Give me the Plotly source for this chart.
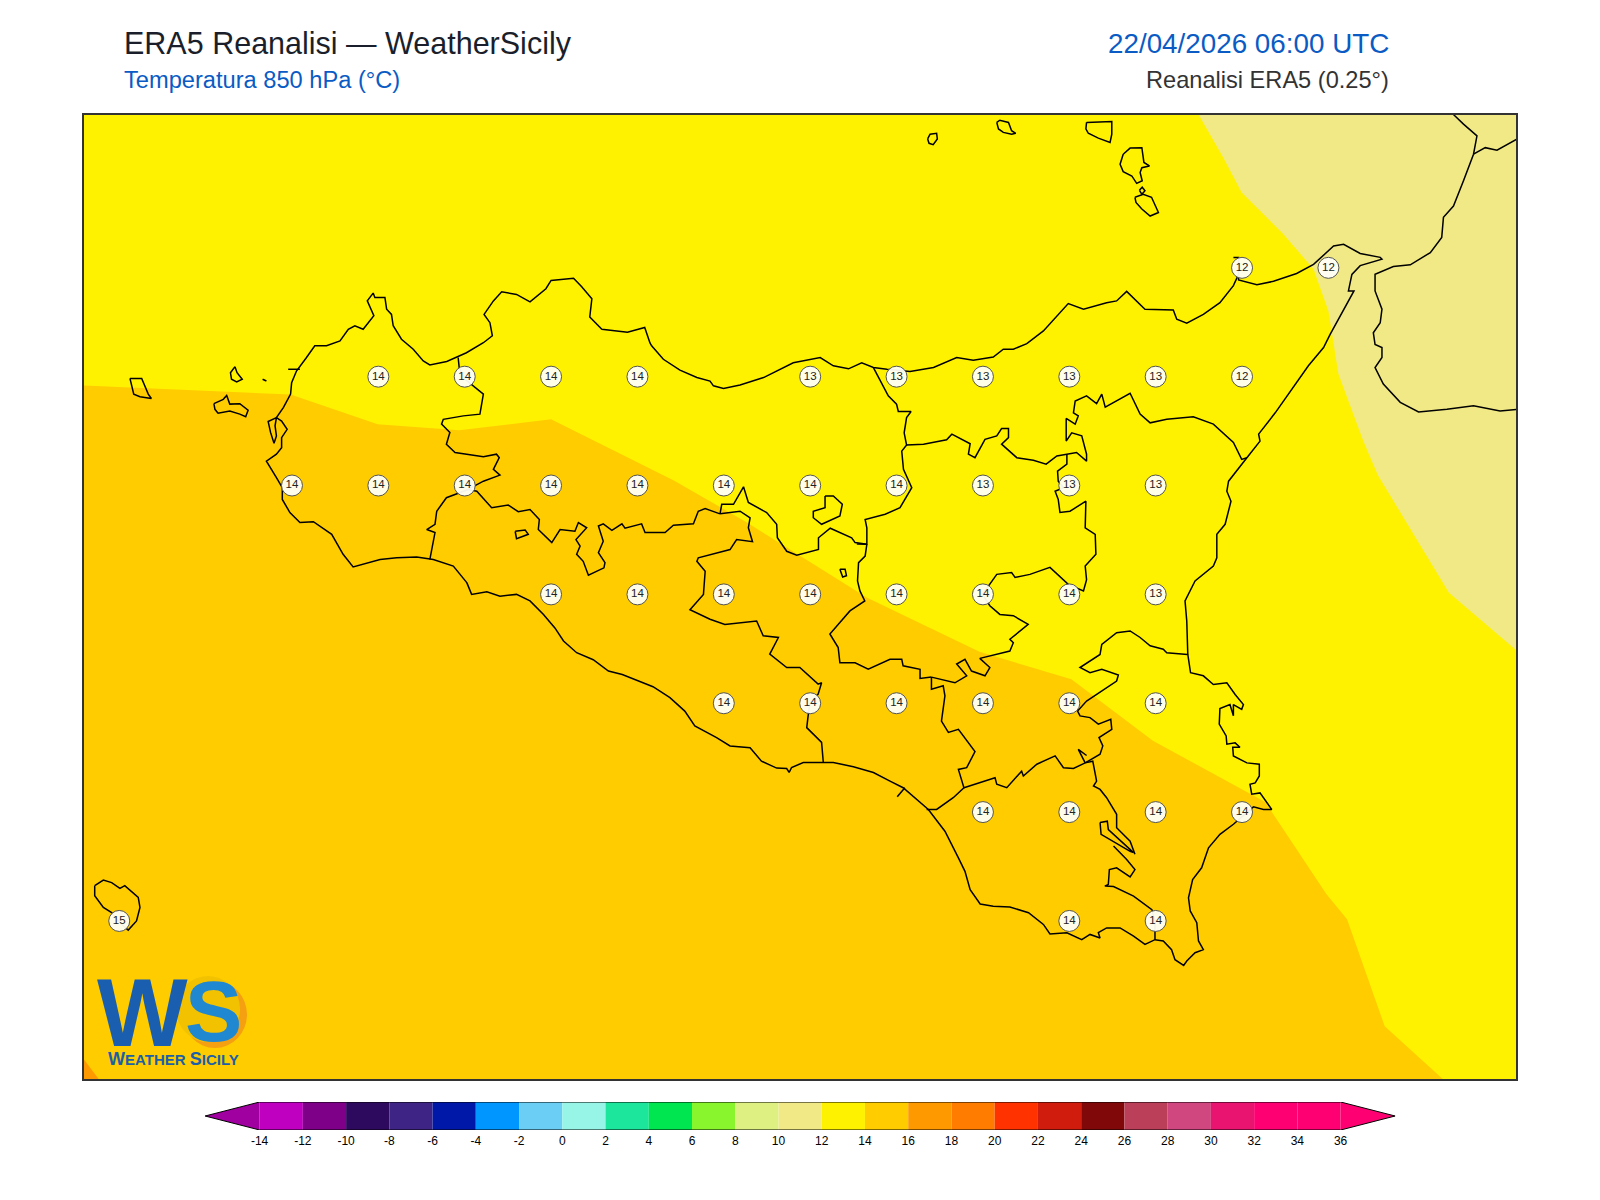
import plotly.graph_objects as go

# map window, degrees
lon_range = [11.898, 16.043]
lat_range = [36.387, 38.601]

# grid point labels, one row per latitude
row_lats = [38.25, 38.0, 37.75, 37.5, 37.25, 37.0, 36.75]
row_lons = [
    [15.25, 15.5],
    [12.75, 13.0, 13.25, 13.5, 14.0, 14.25, 14.5, 14.75, 15.0, 15.25],
    [12.5, 12.75, 13.0, 13.25, 13.5, 13.75, 14.0, 14.25, 14.5, 14.75, 15.0],
    [13.25, 13.5, 13.75, 14.0, 14.25, 14.5, 14.75, 15.0],
    [13.75, 14.0, 14.25, 14.5, 14.75, 15.0],
    [14.5, 14.75, 15.0, 15.25],
    [12.0, 14.75, 15.0],
]
row_vals = [
    [12, 12],
    [14, 14, 14, 14, 13, 13, 13, 13, 13, 12],
    [14, 14, 14, 14, 14, 14, 14, 14, 13, 13, 13],
    [14, 14, 14, 14, 14, 14, 14, 13],
    [14, 14, 14, 14, 14, 14],
    [14, 14, 14, 14],
    [15, 14, 14],
]

# colour scale
levels = list(range(-14, 36, 2))
level_colors = ["#C000C0", "#7F0088", "#2E0A5E", "#3E2485", "#0018A8", "#0096FF", "#6BCFF5", "#96F5E6",
                "#1CE69B", "#00E650", "#88F52D", "#DFF082", "#F0E986", "#FFF200", "#FFCC00", "#FF9900",
                "#FF7C00", "#FF3200", "#CF1C0C", "#800808", "#BC3F5A", "#D04780", "#E8146F", "#FF0072", "#FF0072"]
tick_vals = list(range(-14, 38, 2))
tick_text = [str(v) for v in tick_vals]

# filled temperature bands
band_12_14 = [(11.895, 36.382), (16.046, 36.382), (16.046, 38.605), (11.895, 38.605)]
band_10_12 = [(15.122, 38.605), (15.196, 38.503), (15.249, 38.423), (15.370, 38.327), (15.457, 38.247),
              (15.500, 38.151), (15.529, 38.006), (15.601, 37.852), (15.643, 37.774), (15.849, 37.504),
              (16.046, 37.370), (16.046, 38.605)]
band_14_16 = [(11.895, 37.980), (12.245, 37.968), (12.496, 37.959), (12.748, 37.891), (12.984, 37.877),
              (13.250, 37.902), (13.604, 37.762), (13.811, 37.668), (14.165, 37.492), (14.490, 37.368),
              (14.756, 37.305), (14.992, 37.164), (15.317, 37.023), (15.494, 36.812), (15.554, 36.754),
              (15.663, 36.508), (15.838, 36.382), (11.895, 36.382)]
band_16_18 = [(11.895, 36.435), (11.945, 36.382), (11.895, 36.382)]

# coast of Sicily
sicily = [(13.006, 37.527), (12.967, 37.565), (12.909, 37.580), (12.861, 37.586), (12.803, 37.584), (12.755, 37.580),
          (12.677, 37.563), (12.648, 37.592), (12.615, 37.638), (12.586, 37.653), (12.562, 37.667), (12.523, 37.665),
          (12.494, 37.688), (12.472, 37.718), (12.472, 37.745), (12.455, 37.768), (12.436, 37.795), (12.426, 37.806),
          (12.455, 37.822), (12.470, 37.837), (12.470, 37.860), (12.486, 37.879), (12.470, 37.898), (12.455, 37.906),
          (12.475, 37.929), (12.496, 37.960), (12.499, 37.986), (12.513, 38.013), (12.542, 38.044), (12.566, 38.071),
          (12.600, 38.071), (12.639, 38.082), (12.663, 38.109), (12.682, 38.117), (12.706, 38.109), (12.737, 38.140),
          (12.718, 38.174), (12.735, 38.192), (12.740, 38.182), (12.769, 38.182), (12.774, 38.155), (12.788, 38.143),
          (12.793, 38.117), (12.817, 38.086), (12.851, 38.063), (12.880, 38.036), (12.899, 38.027), (12.948, 38.035),
          (13.005, 38.055), (13.054, 38.078), (13.080, 38.094), (13.073, 38.124), (13.056, 38.143), (13.083, 38.174),
          (13.107, 38.195), (13.150, 38.189), (13.189, 38.172), (13.235, 38.202), (13.250, 38.221), (13.315, 38.226),
          (13.338, 38.207), (13.368, 38.179), (13.362, 38.137), (13.397, 38.109), (13.471, 38.102), (13.521, 38.113),
          (13.536, 38.078), (13.541, 38.071), (13.575, 38.040), (13.623, 38.015), (13.672, 37.998), (13.710, 37.990),
          (13.720, 37.979), (13.749, 37.973), (13.797, 37.981), (13.865, 37.998), (13.951, 38.032), (14.029, 38.044),
          (14.067, 38.025), (14.111, 38.018), (14.149, 38.032), (14.183, 38.021), (14.222, 38.017), (14.289, 38.012),
          (14.357, 38.021), (14.424, 38.044), (14.472, 38.038), (14.530, 38.045), (14.559, 38.063), (14.588, 38.063),
          (14.627, 38.076), (14.675, 38.105), (14.747, 38.168), (14.791, 38.155), (14.858, 38.170), (14.887, 38.174),
          (14.916, 38.196), (14.969, 38.155), (15.051, 38.153), (15.061, 38.132), (15.090, 38.123), (15.138, 38.143),
          (15.186, 38.170), (15.225, 38.209), (15.240, 38.235), (15.240, 38.274), (15.225, 38.274), (15.240, 38.274),
          (15.240, 38.222), (15.293, 38.211), (15.341, 38.219), (15.408, 38.237), (15.457, 38.258), (15.515, 38.300),
          (15.544, 38.304), (15.592, 38.283), (15.650, 38.274), (15.655, 38.270), (15.592, 38.255), (15.568, 38.235),
          (15.558, 38.197), (15.574, 38.197), (15.505, 38.097), (15.486, 38.067), (15.442, 38.025), (15.346, 37.917),
          (15.298, 37.868), (15.302, 37.852), (15.264, 37.814), (15.211, 37.760), (15.206, 37.737), (15.218, 37.714),
          (15.201, 37.661), (15.177, 37.638), (15.177, 37.584), (15.167, 37.565), (15.114, 37.531), (15.095, 37.500),
          (15.085, 37.485), (15.090, 37.439), (15.093, 37.362), (15.101, 37.320), (15.138, 37.313), (15.167, 37.293),
          (15.206, 37.297), (15.230, 37.270), (15.254, 37.247), (15.249, 37.236), (15.225, 37.247), (15.225, 37.221),
          (15.215, 37.247), (15.186, 37.238), (15.184, 37.202), (15.204, 37.175), (15.206, 37.156), (15.230, 37.159),
          (15.244, 37.149), (15.223, 37.149), (15.225, 37.129), (15.264, 37.113), (15.300, 37.110), (15.300, 37.083),
          (15.288, 37.067), (15.273, 37.064), (15.278, 37.041), (15.302, 37.044), (15.336, 37.006), (15.312, 37.006),
          (15.283, 37.012), (15.225, 36.972), (15.186, 36.949), (15.153, 36.918), (15.133, 36.872), (15.107, 36.845),
          (15.095, 36.803), (15.100, 36.773), (15.119, 36.746), (15.124, 36.704), (15.138, 36.684), (15.114, 36.677),
          (15.090, 36.658), (15.081, 36.648), (15.056, 36.661), (15.046, 36.684), (15.022, 36.704), (14.998, 36.707),
          (14.969, 36.696), (14.936, 36.715), (14.897, 36.734), (14.858, 36.734), (14.834, 36.723), (14.839, 36.711),
          (14.810, 36.719), (14.786, 36.707), (14.743, 36.723), (14.694, 36.720), (14.675, 36.742), (14.632, 36.769),
          (14.578, 36.782), (14.530, 36.784), (14.492, 36.789), (14.463, 36.822), (14.448, 36.864), (14.429, 36.895),
          (14.390, 36.956), (14.342, 37.006), (14.269, 37.056), (14.231, 37.071), (14.183, 37.091), (14.125, 37.104),
          (14.067, 37.114), (14.038, 37.114), (13.980, 37.114), (13.946, 37.102), (13.939, 37.091), (13.932, 37.100),
          (13.903, 37.101), (13.859, 37.117), (13.826, 37.148), (13.768, 37.152), (13.729, 37.171), (13.666, 37.198),
          (13.637, 37.232), (13.594, 37.263), (13.545, 37.288), (13.456, 37.316), (13.416, 37.324), (13.372, 37.350),
          (13.324, 37.366), (13.286, 37.393), (13.261, 37.423), (13.228, 37.454), (13.189, 37.485), (13.150, 37.500),
          (13.102, 37.496), (13.064, 37.506), (13.020, 37.500), (13.006, 37.527)]

stagnone = [(12.455, 37.906), (12.431, 37.897), (12.438, 37.872), (12.448, 37.847), (12.455, 37.864), (12.451, 37.887), (12.455, 37.906)]
trapani_cape = [(12.489, 38.017), (12.523, 38.017)]

# islands
marettimo = [(12.031, 37.996), (12.065, 37.996), (12.084, 37.960), (12.093, 37.950), (12.060, 37.954), (12.042, 37.960), (12.031, 37.996)]
levanzo = [(12.335, 38.023), (12.341, 38.009), (12.356, 37.994), (12.340, 37.988), (12.325, 37.994), (12.322, 38.009), (12.335, 38.023)]
favignana = [(12.274, 37.938), (12.301, 37.948), (12.311, 37.957), (12.320, 37.937), (12.349, 37.938), (12.373, 37.923), (12.366, 37.908),
             (12.349, 37.914), (12.320, 37.921), (12.286, 37.916), (12.277, 37.925), (12.274, 37.938)]
formica = [(12.415, 37.994), (12.426, 37.990)]
filicudi = [(14.340, 38.546), (14.347, 38.557), (14.366, 38.559), (14.368, 38.546), (14.356, 38.533), (14.344, 38.536), (14.340, 38.546)]
alicudi = [(14.540, 38.584), (14.549, 38.589), (14.574, 38.584), (14.583, 38.565), (14.595, 38.559), (14.583, 38.557), (14.559, 38.561), (14.545, 38.569), (14.540, 38.584)]
salina = [(14.800, 38.584), (14.873, 38.586), (14.873, 38.557), (14.868, 38.538), (14.834, 38.548), (14.805, 38.559), (14.798, 38.569), (14.800, 38.584)]
lipari = [(14.906, 38.511), (14.926, 38.525), (14.960, 38.526), (14.966, 38.492), (14.982, 38.484), (14.960, 38.480), (14.955, 38.469),
          (14.961, 38.450), (14.945, 38.444), (14.931, 38.461), (14.906, 38.471), (14.897, 38.488), (14.906, 38.511)]
vulcano = [(14.940, 38.412), (14.964, 38.419), (14.988, 38.412), (15.008, 38.377), (14.984, 38.369), (14.960, 38.385), (14.943, 38.400), (14.940, 38.412)]
vulcanello = [(14.953, 38.428), (14.961, 38.435), (14.969, 38.427), (14.960, 38.419), (14.953, 38.428)]
pantelleria = [(11.929, 36.831), (11.954, 36.844), (11.978, 36.838), (12.002, 36.825), (12.016, 36.831), (12.055, 36.804), (12.060, 36.781),
               (12.050, 36.750), (12.026, 36.729), (12.002, 36.746), (11.978, 36.769), (11.954, 36.781), (11.929, 36.808), (11.929, 36.831)]

# Calabria
calabria = [(15.862, 38.602), (15.891, 38.580), (15.930, 38.553), (15.920, 38.511), (15.891, 38.450), (15.862, 38.392), (15.833, 38.366),
            (15.828, 38.320), (15.795, 38.285), (15.737, 38.257), (15.688, 38.253), (15.635, 38.235), (15.635, 38.197), (15.655, 38.155),
            (15.650, 38.124), (15.630, 38.101), (15.635, 38.074), (15.655, 38.067), (15.655, 38.044), (15.635, 38.021), (15.659, 37.983),
            (15.708, 37.941), (15.761, 37.919), (15.843, 37.925), (15.920, 37.933), (15.997, 37.921), (16.047, 37.925)]
calabria_border = [(15.920, 38.511), (15.954, 38.526), (15.988, 38.520), (16.021, 38.534), (16.047, 38.546)]

# province borders
tp_pa = [(12.981, 38.044), (12.984, 38.021), (13.001, 37.994), (13.030, 37.975), (13.054, 37.960), (13.044, 37.914), (12.996, 37.910),
         (12.938, 37.902), (12.933, 37.891), (12.957, 37.872), (12.947, 37.845), (12.972, 37.826), (13.054, 37.816), (13.092, 37.822),
         (13.100, 37.814), (13.083, 37.787), (13.102, 37.774), (13.054, 37.760), (13.010, 37.741)]
tp_ag = [(13.010, 37.741), (12.947, 37.722), (12.919, 37.691), (12.914, 37.661), (12.890, 37.649), (12.914, 37.642), (12.899, 37.580)]
pa_ag = [(13.010, 37.741), (13.035, 37.737), (13.078, 37.699), (13.126, 37.705), (13.155, 37.690), (13.189, 37.695), (13.216, 37.672),
         (13.213, 37.649), (13.252, 37.619), (13.276, 37.649), (13.319, 37.645), (13.329, 37.665), (13.353, 37.653), (13.322, 37.626),
         (13.334, 37.611), (13.324, 37.592), (13.343, 37.576), (13.358, 37.544), (13.403, 37.561), (13.406, 37.573), (13.387, 37.596),
         (13.401, 37.622), (13.387, 37.657), (13.401, 37.662), (13.426, 37.647), (13.455, 37.662), (13.464, 37.652), (13.512, 37.662),
         (13.522, 37.642), (13.580, 37.642), (13.604, 37.659), (13.662, 37.662), (13.676, 37.691), (13.696, 37.697), (13.739, 37.685)]
ag_cl = [(13.739, 37.685), (13.797, 37.691), (13.826, 37.676), (13.821, 37.653), (13.833, 37.621), (13.787, 37.626), (13.768, 37.603),
         (13.676, 37.584), (13.672, 37.576), (13.696, 37.553), (13.691, 37.500), (13.652, 37.465), (13.710, 37.443), (13.753, 37.431),
         (13.845, 37.439), (13.864, 37.405), (13.908, 37.401), (13.883, 37.363), (13.932, 37.332), (13.970, 37.332), (14.023, 37.294),
         (14.033, 37.297), (14.023, 37.271), (13.999, 37.249), (13.994, 37.221), (13.990, 37.194), (14.033, 37.160), (14.038, 37.114)]
pa_cl = [(13.739, 37.685), (13.744, 37.707), (13.778, 37.707), (13.807, 37.747), (13.821, 37.711), (13.874, 37.688), (13.903, 37.661),
         (13.905, 37.630), (13.932, 37.599), (13.961, 37.590), (14.024, 37.603), (14.024, 37.630), (14.058, 37.652), (14.120, 37.630),
         (14.130, 37.619), (14.164, 37.615)]
pa_me = [(14.135, 37.616), (14.164, 37.615), (14.164, 37.653), (14.159, 37.672), (14.217, 37.684), (14.260, 37.699), (14.294, 37.745),
         (14.270, 37.787), (14.265, 37.829), (14.279, 37.843), (14.272, 37.871), (14.279, 37.906), (14.292, 37.920), (14.255, 37.920),
         (14.250, 37.937), (14.226, 37.956), (14.183, 38.021)]
cl_en = [(14.164, 37.615), (14.159, 37.588), (14.140, 37.573), (14.137, 37.531), (14.144, 37.508), (14.158, 37.485), (14.115, 37.462),
         (14.072, 37.424), (14.057, 37.409), (14.081, 37.378), (14.086, 37.343), (14.130, 37.343), (14.168, 37.328), (14.231, 37.351),
         (14.265, 37.351), (14.269, 37.336), (14.318, 37.328), (14.318, 37.307), (14.351, 37.310)]
en_ct = [(14.351, 37.310), (14.419, 37.297), (14.453, 37.313), (14.424, 37.340), (14.448, 37.351), (14.467, 37.324), (14.506, 37.313),
         (14.520, 37.332), (14.491, 37.353), (14.578, 37.370), (14.588, 37.389), (14.578, 37.397), (14.631, 37.431), (14.588, 37.451),
         (14.549, 37.454), (14.520, 37.474), (14.499, 37.500), (14.540, 37.546), (14.583, 37.550), (14.593, 37.539), (14.636, 37.546),
         (14.694, 37.562), (14.747, 37.523), (14.791, 37.508), (14.800, 37.534), (14.796, 37.565), (14.827, 37.592), (14.825, 37.638),
         (14.796, 37.653), (14.798, 37.714), (14.752, 37.691), (14.723, 37.688), (14.718, 37.718), (14.709, 37.737), (14.733, 37.745),
         (14.718, 37.760), (14.716, 37.783), (14.743, 37.799), (14.743, 37.822)]
en_me_ct = [(14.279, 37.843), (14.328, 37.845), (14.395, 37.855), (14.410, 37.868), (14.463, 37.846), (14.458, 37.822), (14.477, 37.814),
            (14.506, 37.856), (14.540, 37.864), (14.554, 37.881), (14.574, 37.881), (14.574, 37.860), (14.554, 37.845), (14.598, 37.814),
            (14.646, 37.808), (14.683, 37.799), (14.714, 37.818), (14.743, 37.822), (14.771, 37.826), (14.800, 37.806), (14.800, 37.822),
            (14.786, 37.864), (14.757, 37.871), (14.741, 37.852), (14.741, 37.904), (14.767, 37.891), (14.776, 37.910), (14.762, 37.917),
            (14.767, 37.944), (14.800, 37.956), (14.829, 37.938), (14.844, 37.960), (14.854, 37.930), (14.926, 37.962), (14.955, 37.914),
            (14.984, 37.894), (15.032, 37.902), (15.109, 37.908), (15.167, 37.891), (15.225, 37.849), (15.249, 37.810), (15.264, 37.814)]
cl_rg = [(14.351, 37.310), (14.351, 37.282), (14.385, 37.290), (14.390, 37.267), (14.380, 37.209), (14.400, 37.183), (14.429, 37.190),
         (14.477, 37.139), (14.453, 37.102), (14.429, 37.098), (14.445, 37.056), (14.414, 37.033), (14.366, 37.006), (14.337, 37.006)]
rg_ct = [(14.445, 37.056), (14.535, 37.079), (14.540, 37.064), (14.569, 37.056), (14.612, 37.094), (14.617, 37.083), (14.656, 37.110),
         (14.709, 37.129), (14.733, 37.102), (14.762, 37.100), (14.796, 37.113)]
ct_sr = [(14.796, 37.113), (14.839, 37.133), (14.847, 37.152), (14.836, 37.171), (14.873, 37.190), (14.870, 37.213), (14.834, 37.202),
         (14.810, 37.217), (14.781, 37.221), (14.774, 37.232), (14.800, 37.255), (14.853, 37.282), (14.887, 37.301), (14.892, 37.315),
         (14.844, 37.328), (14.810, 37.320), (14.781, 37.332), (14.839, 37.362), (14.844, 37.385), (14.887, 37.412), (14.926, 37.416),
         (14.955, 37.401), (14.984, 37.382), (15.022, 37.374), (15.032, 37.366), (15.092, 37.362)]
biviere = [(14.796, 37.113), (14.776, 37.144), (14.800, 37.130)]
rg_sr = [(14.796, 37.113), (14.818, 37.117), (14.829, 37.071), (14.820, 37.060), (14.839, 37.052), (14.858, 37.033), (14.887, 36.995),
         (14.887, 36.964), (14.926, 36.933), (14.940, 36.903)]
rg_sr_b = [(14.839, 36.976), (14.860, 36.979), (14.863, 36.960), (14.936, 36.907), (14.926, 36.910), (14.842, 36.949), (14.839, 36.976)]
rg_sr_c = [(14.878, 36.922), (14.916, 36.891), (14.940, 36.868), (14.926, 36.851), (14.887, 36.872), (14.866, 36.868), (14.863, 36.834),
           (14.853, 36.830), (14.878, 36.829), (14.936, 36.807), (14.989, 36.776), (14.998, 36.750), (14.998, 36.707)]
gela_mark = [(14.274, 37.056), (14.252, 37.035)]
pergusa = [(14.086, 37.558), (14.101, 37.558), (14.105, 37.543), (14.094, 37.540), (14.086, 37.558)]
sclafani = [(14.043, 37.726), (14.067, 37.726), (14.093, 37.707), (14.086, 37.680), (14.033, 37.661), (14.009, 37.676), (14.009, 37.691), (14.043, 37.699), (14.043, 37.726)]
exclave = [(13.146, 37.645), (13.175, 37.648), (13.184, 37.638), (13.150, 37.628), (13.146, 37.645)]

outlines = [sicily, stagnone, trapani_cape, marettimo, levanzo, favignana, formica, filicudi, alicudi, salina, lipari, vulcano, vulcanello,
            pantelleria, calabria, calabria_border, tp_pa, tp_ag, pa_ag, ag_cl, pa_cl, pa_me, cl_en, en_ct, en_me_ct, cl_rg, rg_ct, ct_sr,
            biviere, rg_sr, rg_sr_b, rg_sr_c, gela_mark, pergusa, sclafani, exclave]

fig = go.Figure()

for band, color in [(band_12_14, "#FFF200"), (band_10_12, "#F0E986"), (band_14_16, "#FFCC00"), (band_16_18, "#FF9900")]:
    fig.add_trace(go.Scatter(x=[p[0] for p in band], y=[p[1] for p in band], mode="lines", fill="toself",
                             fillcolor=color, line=dict(width=0), hoverinfo="skip"))

for line in outlines:
    fig.add_trace(go.Scatter(x=[p[0] for p in line], y=[p[1] for p in line], mode="lines",
                             line=dict(color="black", width=1.5), hoverinfo="skip"))

for lat, lons, vals in zip(row_lats, row_lons, row_vals):
    fig.add_trace(go.Scatter(x=lons, y=[lat] * len(lons), mode="markers+text", text=[str(v) for v in vals],
                             textposition="middle center", textfont=dict(family="Liberation Sans", size=11.5, color="#222222"),
                             marker=dict(size=21, color="rgba(255,255,245,0.95)", line=dict(color="#555555", width=1))))

# colour bar
fig.add_trace(go.Bar(x=[2] * len(levels), base=levels, y=[0.5] * len(levels), width=1, orientation="h",
                     marker=dict(color=level_colors, line=dict(width=0)), xaxis="x2", yaxis="y2"))
fig.add_trace(go.Scatter(x=[-14, -16.52, -14], y=[0, 0.5, 1], mode="lines", fill="toself", fillcolor="#A000A0",
                         line=dict(color="black", width=1), xaxis="x2", yaxis="y2"))
fig.add_trace(go.Scatter(x=[36, 38.52, 36], y=[0, 0.5, 1], mode="lines", fill="toself", fillcolor="#FF0072",
                         line=dict(color="black", width=1), xaxis="x2", yaxis="y2"))
fig.add_trace(go.Scatter(x=[-14, 36, None, -14, 36], y=[0, 0, None, 1, 1], mode="lines",
                         line=dict(color="black", width=1), xaxis="x2", yaxis="y2"))

TITLE_FONT = "Liberation Sans"
fig.update_layout(
    width=1600,
    height=1200,
    margin=dict(l=0, r=0, t=0, b=0),
    paper_bgcolor="white",
    plot_bgcolor="white",
    showlegend=False,
    xaxis=dict(domain=[84 / 1600, 1516 / 1600], range=lon_range, showticklabels=False, ticks="", showgrid=False,
               zeroline=False, showline=True, mirror=True, linecolor="#333333", linewidth=1.5),
    yaxis=dict(domain=[1 - 1079 / 1200, 1 - 115 / 1200], range=lat_range, showticklabels=False, ticks="", showgrid=False,
               zeroline=False, showline=True, mirror=True, linecolor="#333333", linewidth=1.5),
    xaxis2=dict(domain=[200 / 1600, 1400 / 1600], range=[-16.757, 38.747], anchor="y2", tickvals=tick_vals, ticktext=tick_text,
                ticks="", ticklabelstandoff=2, showgrid=False, zeroline=False, showline=False,
                tickfont=dict(family=TITLE_FONT, size=12, color="black")),
    yaxis2=dict(domain=[1 - 1130 / 1200, 1 - 1102 / 1200], range=[0, 1], anchor="x2", showticklabels=False, ticks="",
                showgrid=False, zeroline=False, showline=False),
    shapes=[
        dict(type="circle", xref="paper", yref="paper", x0=183 / 1600, x1=247 / 1600, y0=1 - 1048 / 1200, y1=1 - 981 / 1200,
             fillcolor="#F5A010", line=dict(width=0), layer="above"),
        dict(type="circle", xref="paper", yref="paper", x0=176 / 1600, x1=240 / 1600, y0=1 - 1042 / 1200, y1=1 - 976 / 1200,
             fillcolor="#F2C200", line=dict(width=0), layer="above"),
    ],
    annotations=[
        dict(text="ERA5 Reanalisi — WeatherSicily", xref="paper", yref="paper", x=122 / 1600, y=1 - 43 / 1200, xanchor="left",
             yanchor="middle", showarrow=False, font=dict(family=TITLE_FONT, size=30.5, color="#1A1F2B")),
        dict(text="Temperatura 850 hPa (°C)", xref="paper", yref="paper", x=122 / 1600, y=1 - 80 / 1200, xanchor="left",
             yanchor="middle", showarrow=False, font=dict(family=TITLE_FONT, size=23.65, color="#0A5BC4")),
        dict(text="22/04/2026 06:00 UTC", xref="paper", yref="paper", x=1391 / 1600, y=1 - 44 / 1200, xanchor="right",
             yanchor="middle", showarrow=False, font=dict(family=TITLE_FONT, size=27.8, color="#0A5BC4")),
        dict(text="Reanalisi ERA5 (0.25°)", xref="paper", yref="paper", x=1391 / 1600, y=1 - 80 / 1200, xanchor="right",
             yanchor="middle", showarrow=False, font=dict(family=TITLE_FONT, size=23.6, color="#333333")),
        dict(text="<b>W</b>", xref="paper", yref="paper", x=95 / 1600, y=1 - 1012 / 1200, xanchor="left", yanchor="middle",
             showarrow=False, font=dict(family=TITLE_FONT, size=96, color="#1A5FAF")),
        dict(text="<b>S</b>", xref="paper", yref="paper", x=183 / 1600, y=1 - 1011 / 1200, xanchor="left", yanchor="middle",
             showarrow=False, font=dict(family=TITLE_FONT, size=86, color="#2088D0")),
        dict(text='<b><span style="font-size:18px">W</span>EATHER <span style="font-size:18px">S</span>ICILY</b>',
             xref="paper", yref="paper", x=106 / 1600, y=1 - 1059 / 1200, xanchor="left",
             yanchor="middle", showarrow=False, font=dict(family=TITLE_FONT, size=15, color="#1B5FA8")),
    ],
)

fig.write_html("out.html", post_script="document.body.style.margin='0';", config=dict(displayModeBar=False))
